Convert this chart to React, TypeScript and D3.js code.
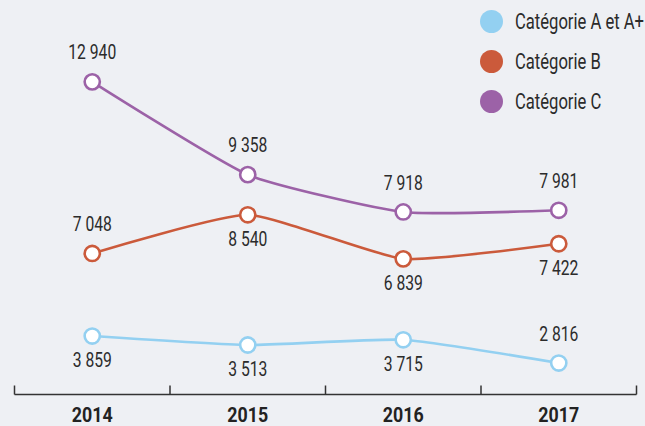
import React from "react";
import * as d3 from "d3";

const years = ["2014", "2015", "2016", "2017"];
const seriesNames = ["Catégorie A et A+", "Catégorie B", "Catégorie C"];
const catA = [3859, 3513, 3715, 2816];
const catB = [7048, 8540, 6839, 7422];
const catC = [12940, 9358, 7918, 7981];
// label placement: true = above the point
const aboveA = [false, false, false, true];
const aboveB = [true, false, false, false];
const aboveC = [true, true, true, true];
const colors = ["#93d0f1", "#cb5a3b", "#9c62a7"];

const W = 645;
const H = 426;
const FONT = "Roboto, 'Liberation Sans', sans-serif";
const fmt = (v: number) => d3.format(",")(v).replace(/,/g, " ");

function NText(props: {
  x: number;
  y: number;
  size: number;
  sx: number;
  anchor?: string;
  weight?: string;
  fill?: string;
  children: React.ReactNode;
}) {
  return (
    <text
      transform={`translate(${props.x},${props.y}) scale(${props.sx},1)`}
      textAnchor={props.anchor || "start"}
      fontSize={props.size}
      fontWeight={props.weight || "normal"}
      fill={props.fill || "#2b2b2b"}
    >
      {props.children}
    </text>
  );
}

export default function App() {
  const x = d3.scaleBand<string>().domain(years).range([14.5, 636.5]);
  const y = d3.scaleLinear().domain([0, 13000]).range([436, 99.3]);
  // the original shifts the top series upward to separate it from B
  const yC = d3.scaleLinear().domain([0, 13000]).range([417, 80.3]);
  const series = [
    { vals: catA, above: aboveA, sc: y, color: colors[0] },
    { vals: catB, above: aboveB, sc: y, color: colors[1] },
    { vals: catC, above: aboveC, sc: yC, color: colors[2] },
  ];
  const cx = (yr: string) => (x(yr) as number) + x.bandwidth() / 2;
  const axisY = 394.5;
  const ticks = [...years.map((yr) => x(yr) as number), x.range()[1]];

  return (
    <div style={{ position: "fixed", left: 0, top: 0 }}>
      <svg width={W} height={H} style={{ display: "block", background: "#eef0f4" }} fontFamily={FONT}>
        <rect width={W} height={H} fill="#eef0f4" />
        {/* axis */}
        <line x1={ticks[0]} x2={ticks[ticks.length - 1]} y1={axisY} y2={axisY} stroke="#333" strokeWidth={1.5} />
        {ticks.map((t, i) => (
          <line key={i} x1={t} x2={t} y1={axisY} y2={axisY - 9} stroke="#333" strokeWidth={1.5} />
        ))}
        {years.map((yr) => (
          <NText key={yr} x={cx(yr)} y={421.5} size={20} sx={0.89} anchor="middle" weight="bold" fill="#222">
            {yr}
          </NText>
        ))}
        {/* lines */}
        {series.map((s, si) => {
          const line = d3
            .line<number>()
            .x((_, i) => cx(years[i]))
            .y((v) => s.sc(v))
            .curve(d3.curveCardinal.tension(0.5));
          return (
            <g key={si}>
              <path d={line(s.vals) || ""} fill="none" stroke={s.color} strokeWidth={2.6} />
              {s.vals.map((v, i) => (
                <g key={i}>
                  <circle cx={cx(years[i])} cy={s.sc(v)} r={7.6} fill="#fff" stroke={s.color} strokeWidth={2.6} />
                  <NText
                    x={cx(years[i])}
                    y={s.above[i] ? s.sc(v) - 22.4 : s.sc(v) + 31}
                    size={20}
                    sx={0.785}
                    anchor="middle"
                  >
                    {fmt(v)}
                  </NText>
                </g>
              ))}
            </g>
          );
        })}
        {/* legend */}
        {seriesNames.map((n, i) => (
          <g key={n}>
            <circle cx={491.5} cy={21.5 + i * 40} r={11.5} fill={colors[i]} />
            <NText x={515} y={29 + i * 40} size={22} sx={0.755}>
              {n}
            </NText>
          </g>
        ))}
      </svg>
    </div>
  );
}
